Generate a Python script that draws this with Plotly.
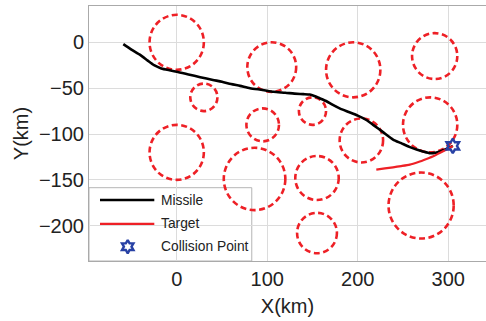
import plotly.graph_objects as go

# Obstacle circles (center x, center y, radius) in km
obs_cx = [0, 30, 105, 195, 285, 95, 150, 204, 280, 0, 86, 155, 155, 270]
obs_cy = [0, -60, -27, -30, -15, -90, -75, -107, -90, -120, -149, -148, -208, -178]
obs_r = [30, 15, 27, 30, 25, 18, 15, 24, 30, 30, 34, 24, 22, 36]

# Missile trajectory
missile_x = [-59, -50, -40, -32, -25, -17, -8, 0, 13, 26, 40, 50, 60, 70, 81, 95, 107, 120,
             130, 140, 147, 152, 158, 165, 172, 180, 190, 200, 210, 217, 228, 239, 248,
             257, 265, 272, 280, 286, 291, 296, 301, 305]
missile_y = [-2, -8, -14, -20, -25, -28.5, -30.5, -32, -35, -38, -41, -43, -45.5, -47.5, -50, -52,
             -54, -55, -56, -56.5, -57, -58.5, -61, -64, -68, -72, -76, -80, -85, -90, -98,
             -106, -110, -114, -117, -119, -121, -120.5, -119, -117, -115, -113]

# Target trajectory
target_x = [220.5, 230, 239, 248, 257.5, 267, 276, 284, 290.5, 297, 302, 305]
target_y = [-138.8, -137.5, -136.3, -135, -133.4, -130.5, -127.2, -124, -120.7, -117.5, -115, -113]

# Collision point
collision_x = [305]
collision_y = [-113]

# Legend entries
legend_names = ["Missile", "Target", "Collision Point"]

RED = "rgb(238,32,38)"
BLUE = "rgb(40,65,165)"
fig = go.Figure()

# Obstacles as dashed circles (data coordinates)
for cx, cy, r in zip(obs_cx, obs_cy, obs_r):
    fig.add_shape(type="circle", xref="x", yref="y",
                  x0=cx - r, x1=cx + r, y0=cy - r, y1=cy + r,
                  line=dict(color=RED, width=2.6, dash="6px,3.5px"), layer="between")

fig.add_trace(go.Scatter(x=missile_x, y=missile_y, mode="lines", name="Missile",
                         line=dict(color="black", width=2.6, shape="spline", smoothing=0.6),
                         showlegend=False))
fig.add_trace(go.Scatter(x=target_x, y=target_y, mode="lines", name="Target",
                         line=dict(color=RED, width=2.2, shape="spline", smoothing=0.6),
                         showlegend=False))
fig.add_trace(go.Scatter(x=collision_x, y=collision_y, mode="markers", name="Collision Point",
                         marker=dict(symbol="hexagram-open", size=11, color=BLUE,
                                     line=dict(width=2.4, color=BLUE)),
                         showlegend=False, cliponaxis=False))

# ---- legend box (drawn in plot-area fractions) ----
fig.add_shape(type="rect", xref="paper", yref="paper", x0=0, x1=0.41, y0=0, y1=0.2875,
              fillcolor="white", line=dict(color="#b5b5b5", width=1), layer="between")
row_y = [0.2392, 0.1451, 0.0561]
fig.add_shape(type="line", xref="paper", yref="paper", x0=0.0277, x1=0.1645,
              y0=row_y[0], y1=row_y[0], line=dict(color="black", width=2.4), layer="between")
fig.add_shape(type="line", xref="paper", yref="paper", x0=0.0277, x1=0.1645,
              y0=row_y[1], y1=row_y[1], line=dict(color=RED, width=2.4), layer="between")
fig.add_trace(go.Scatter(x=[0.0975], y=[row_y[2]], xaxis="x2", yaxis="y2", mode="markers",
                         marker=dict(symbol="hexagram-open", size=10, color=BLUE,
                                     line=dict(width=2.4, color=BLUE)),
                         showlegend=False, hoverinfo="skip", cliponaxis=False))
for name, ry in zip(legend_names, row_y):
    fig.add_annotation(text=name, xref="paper", yref="paper", x=0.1763, y=ry,
                       xanchor="left", yanchor="middle", showarrow=False,
                       font=dict(size=13.8, color="#222"))

fig.update_layout(
    width=486, height=321,
    margin=dict(l=89, r=0, t=6, b=60),
    paper_bgcolor="white", plot_bgcolor="white",
    font=dict(family="Liberation Sans, Arial, sans-serif", color="#222"),
    showlegend=False,
    xaxis2=dict(overlaying="x", range=[0, 1], visible=False),
    yaxis2=dict(overlaying="y", range=[0, 1], visible=False),
    xaxis=dict(range=[-96.9, 341.7], tickvals=[0, 100, 200, 300],
               showgrid=True, gridcolor="#dcdcdc", gridwidth=1,
               zeroline=False, showline=True, linecolor="#aaaaaa", linewidth=1,
               mirror=True, ticks="", tickfont=dict(size=20),
               title=dict(text="X(km)", font=dict(size=20), standoff=9)),
    yaxis=dict(range=[-238.5, 39.6], tickvals=[-200, -150, -100, -50, 0],
               ticktext=["\u2212200", "\u2212150", "\u2212100", "\u221250", "0"],
               showgrid=True, gridcolor="#dcdcdc", gridwidth=1,
               zeroline=False, showline=True, linecolor="#aaaaaa", linewidth=1,
               mirror=True, ticks="", tickfont=dict(size=20),
               title=dict(text="Y(km)", font=dict(size=20), standoff=4)),
)

fig.write_html("out.html")
